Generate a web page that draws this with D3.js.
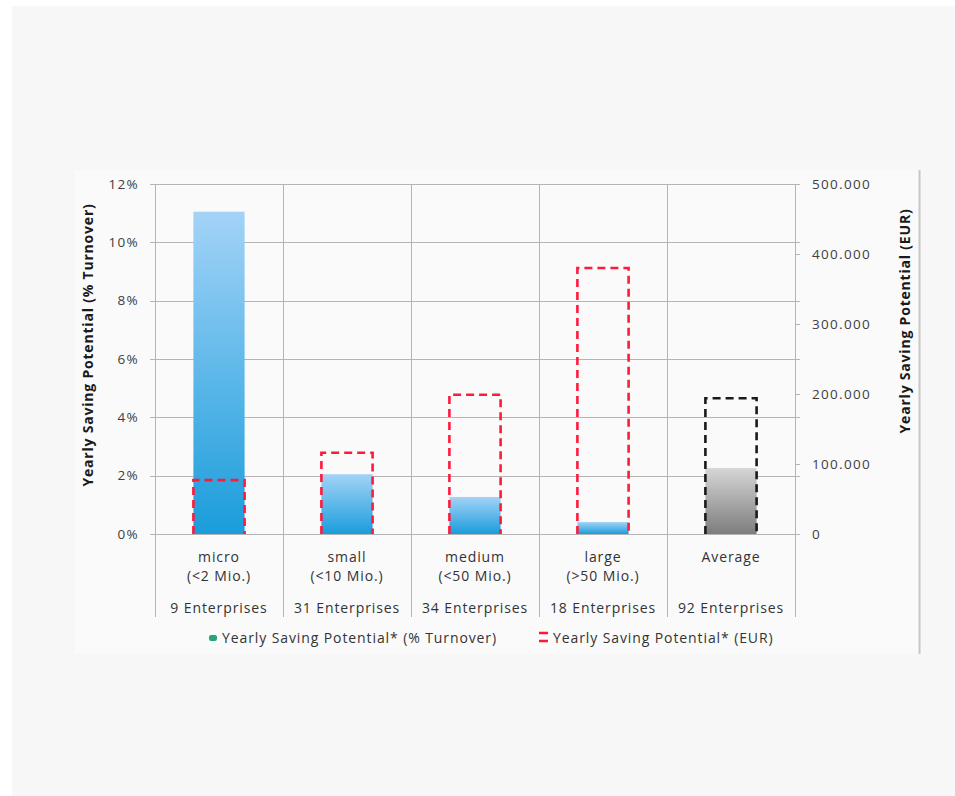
<!DOCTYPE html>
<html><head><meta charset="utf-8">
<script src="https://cdn.jsdelivr.net/npm/d3@7/dist/d3.min.js"></script>
<style>
html,body{margin:0;padding:0;background:#fff;}
svg{display:block;font-family:"Open Sans",sans-serif;}
</style></head>
<body>
<svg id="chart" width="955" height="796"></svg>
<script>
const categories = ["micro","small","medium","large","Average"];
const sizeLabels = ["(<2 Mio.)","(<10 Mio.)","(<50 Mio.)","(>50 Mio.)",""];
const enterpriseLabels = ["9 Enterprises","31 Enterprises","34 Enterprises","18 Enterprises","92 Enterprises"];
const pctTurnover = [11.05, 2.05, 1.27, 0.41, 2.26];
const eurSaving = [77000, 116000, 199000, 380000, 194000];
const leftTicks = [0,2,4,6,8,10,12];
const rightTicks = [0,100000,200000,300000,400000,500000];
const legendLabels = ["Yearly Saving Potential* (% Turnover)","Yearly Saving Potential* (EUR)"];

const svg = d3.select("#chart");
// background
svg.append("rect").attr("x",12).attr("y",6).attr("width",943).attr("height",790).attr("fill","#f7f7f7");
svg.append("rect").attr("x",75).attr("y",170).attr("width",845).attr("height",484).attr("fill","#fafafa");
svg.append("line").attr("x1",919.5).attr("x2",919.5).attr("y1",170).attr("y2",654).attr("stroke","#c8c8c8").attr("stroke-width",2);

const x = d3.scaleBand().domain(categories).range([155,795]).padding(0);
const y = d3.scaleLinear().domain([0,12]).range([534,184]);
const y2 = d3.scaleLinear().domain([0,500000]).range([534,184]);

const defs = svg.append("defs");
const gBlue = defs.append("linearGradient").attr("id","gBlue").attr("x1",0).attr("y1",0).attr("x2",0).attr("y2",1);
gBlue.append("stop").attr("offset","0%").attr("stop-color","#a3d3f7");
gBlue.append("stop").attr("offset","100%").attr("stop-color","#1a9ddb");
const gGray = defs.append("linearGradient").attr("id","gGray").attr("x1",0).attr("y1",0).attr("x2",0).attr("y2",1);
gGray.append("stop").attr("offset","0%").attr("stop-color","#d6d6d6");
gGray.append("stop").attr("offset","100%").attr("stop-color","#7d7d7d");

// horizontal gridlines
svg.append("g").selectAll("line").data(leftTicks).join("line")
  .attr("x1",150).attr("x2",800)
  .attr("y1",d=>Math.round(y(d))+0.5).attr("y2",d=>Math.round(y(d))+0.5)
  .attr("stroke","#b4b4b4").attr("stroke-width",1);

// vertical separators
const seps = categories.map(c=>x(c)).concat([x.range()[1]]);
svg.append("g").selectAll("line").data(seps).join("line")
  .attr("x1",d=>Math.round(d)+0.5).attr("x2",d=>Math.round(d)+0.5)
  .attr("y1",184).attr("y2",617)
  .attr("stroke","#b4b4b4").attr("stroke-width",1);

// left axis
const leftAxis = svg.append("g").attr("transform","translate(155,0)")
  .call(d3.axisLeft(y).tickValues(leftTicks).tickFormat(d=>d+"%").tickSize(0).tickPadding(16));
leftAxis.select(".domain").remove();
leftAxis.selectAll("text").attr("fill","#404040").style("font-size","13.5px").style("letter-spacing","1.3px").style("font-family","Open Sans");

// right axis
const rightAxis = svg.append("g").attr("transform","translate(795,0)")
  .call(d3.axisRight(y2).tickValues(rightTicks).tickFormat(d=>d===0?"0":d3.format(",")(d).replace(/,/g,".")).tickSize(5).tickPadding(12));
rightAxis.select(".domain").remove();
rightAxis.selectAll("line").attr("stroke","#b4b4b4");
rightAxis.selectAll("text").attr("fill","#404040").style("font-size","13.5px").style("letter-spacing","1.3px").style("font-family","Open Sans");

// bars
const bw = x.bandwidth()*0.4;
svg.append("g").selectAll("rect").data(categories).join("rect")
  .attr("x",(d,i)=>x(d)+(x.bandwidth()-bw)/2)
  .attr("y",(d,i)=>y(pctTurnover[i]))
  .attr("width",bw)
  .attr("height",(d,i)=>y(0)-y(pctTurnover[i]))
  .attr("fill",(d,i)=>i===4?"url(#gGray)":"url(#gBlue)");

// dashed EUR boxes
svg.append("g").selectAll("path").data(categories).join("path")
  .attr("d",(d,i)=>{
    const x0 = x(d)+(x.bandwidth()-bw)/2, x1 = x0+bw, yt = y2(eurSaving[i]), yb = y2(0);
    return `M${x0},${yb}L${x0},${yt}L${x1},${yt}L${x1},${yb}`;
  })
  .attr("fill","none")
  .attr("stroke",(d,i)=>i===4?"#1a1a1a":"#ff1a3c")
  .attr("stroke-width",2.6)
  .attr("stroke-dasharray","8,5");

// category labels
const lab = svg.append("g").attr("fill","#333").style("font-size","14px").style("letter-spacing","0.9px").attr("text-anchor","middle");
lab.selectAll("text.c").data(categories).join("text").attr("class","c")
  .attr("x",d=>x(d)+x.bandwidth()/2).attr("y",562).text(d=>d);
lab.selectAll("text.s").data(categories).join("text").attr("class","s")
  .attr("x",d=>x(d)+x.bandwidth()/2).attr("y",581).text((d,i)=>sizeLabels[i]);
lab.selectAll("text.e").data(categories).join("text").attr("class","e")
  .attr("x",d=>x(d)+x.bandwidth()/2).attr("y",613).text((d,i)=>enterpriseLabels[i]);

// axis titles
svg.append("text").attr("transform","translate(93,345) rotate(-90)").attr("text-anchor","middle")
  .style("font-size","14px").style("font-weight","bold").style("letter-spacing","0.8px").attr("fill","#1a1a1a").text("Yearly Saving Potential (% Turnover)");
svg.append("text").attr("transform","translate(910,321) rotate(-90)").attr("text-anchor","middle")
  .style("font-size","14px").style("font-weight","bold").style("letter-spacing","0.8px").attr("fill","#1a1a1a").text("Yearly Saving Potential (EUR)");

// legend
const leg = svg.append("g").style("font-size","14px").style("letter-spacing","0.9px").attr("fill","#333");
leg.append("rect").attr("x",209).attr("y",635).attr("width",8).attr("height",6).attr("rx",2).attr("fill","#2aa37a");
leg.append("text").attr("x",222).attr("y",643).text(legendLabels[0]);
leg.append("line").attr("x1",539).attr("x2",548).attr("y1",633).attr("y2",633).attr("stroke","#ff1a3c").attr("stroke-width",2.5);
leg.append("line").attr("x1",539).attr("x2",548).attr("y1",641).attr("y2",641).attr("stroke","#ff1a3c").attr("stroke-width",2.5);
leg.append("text").attr("x",553).attr("y",643).text(legendLabels[1]);
</script>
</body></html>
